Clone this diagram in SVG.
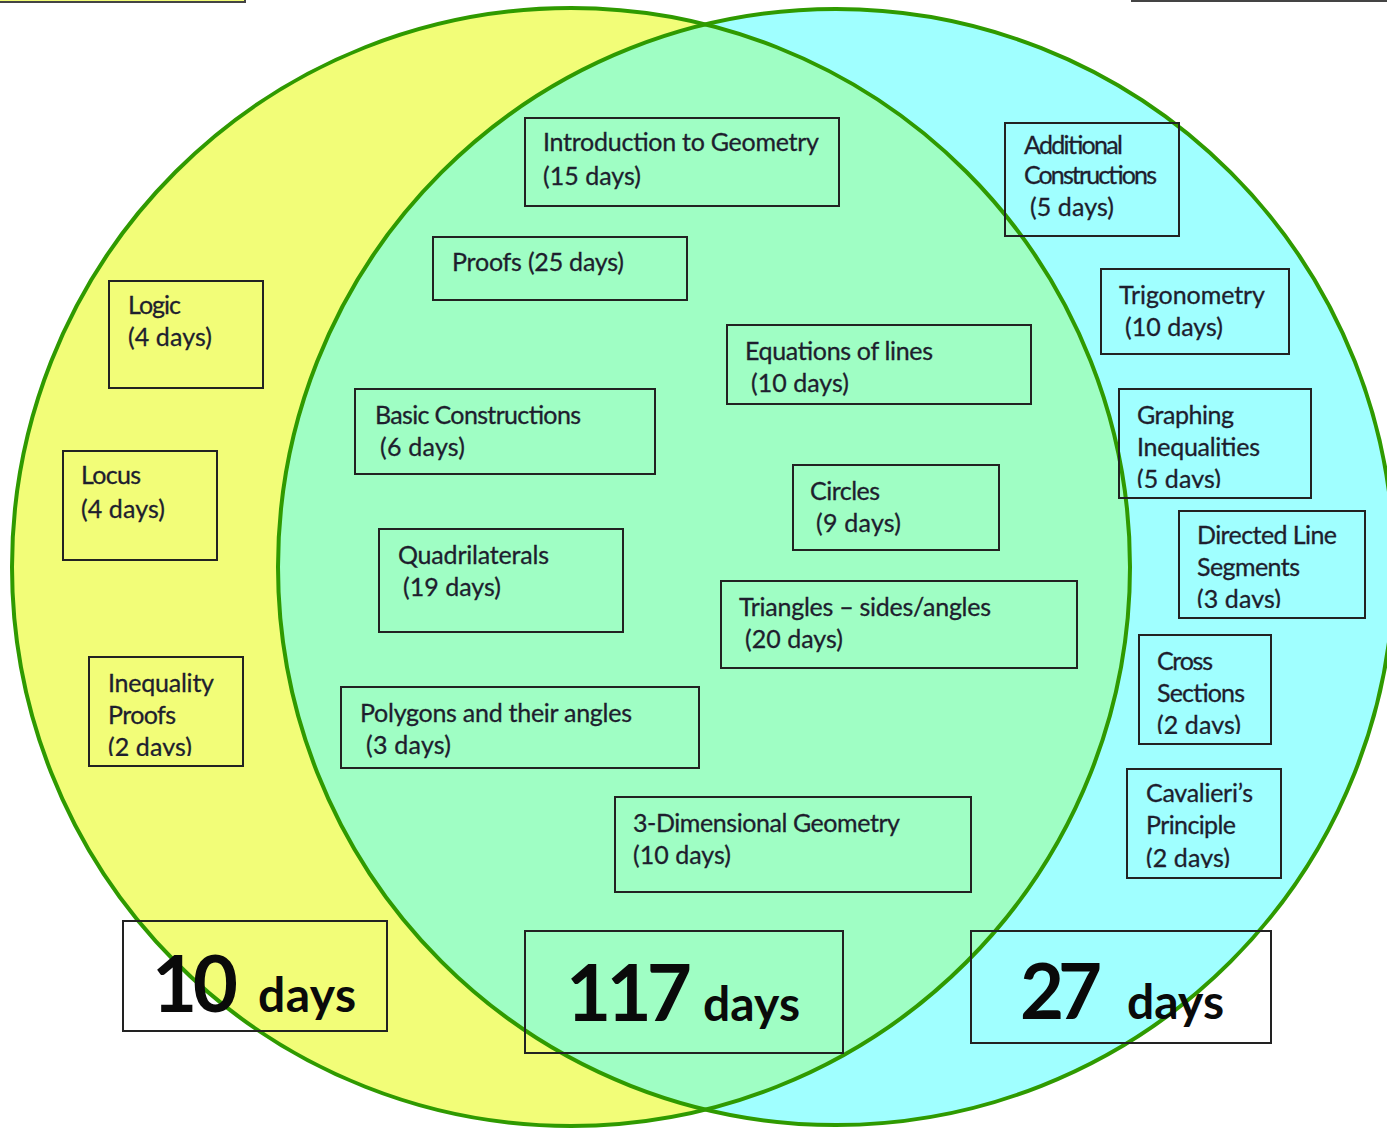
<svg xmlns="http://www.w3.org/2000/svg" width="1387" height="1128" viewBox="0 0 1387 1128">
<style>
.bx{fill:none;stroke:#222;stroke-width:2}
.t{font-family:Lato,"Open Sans","Liberation Sans",sans-serif;font-size:25px;fill:#1e1e2e;stroke:#1e1e2e;stroke-width:0.3}
.big{font-family:Lato,"Open Sans","Liberation Sans",sans-serif;font-weight:bold;fill:#0a0a0a}
.ring{fill:none;stroke:#2f9a00;stroke-width:4}
</style>
<defs>
<clipPath id="cIneq"><rect x="89" y="657" width="154" height="99"/></clipPath>
<clipPath id="cGraph"><rect x="1119" y="389" width="192" height="99"/></clipPath>
<clipPath id="cDir"><rect x="1179" y="511" width="186" height="97"/></clipPath>
<clipPath id="cCross"><rect x="1139" y="635" width="132" height="99"/></clipPath>
<clipPath id="cCav"><rect x="1127" y="769" width="154" height="99"/></clipPath>
</defs>
<rect width="1387" height="1128" fill="#fff"/>
<rect x="-3" y="-50" width="248" height="52" fill="#f2fc76" stroke="#444" stroke-width="2"/>
<rect x="1132" y="-50" width="300" height="51" fill="none" stroke="#444" stroke-width="2"/>
<g id="venn">
<circle cx="571" cy="567" r="559" fill="#f2fd78"/>
<circle cx="836" cy="567" r="558" fill="#a0ffff"/>
<path d="M705.6 24.4 A558 558 0 0 0 705.6 1109.6 A559 559 0 0 0 705.6 24.4 Z" fill="#9ffec4"/>
<circle class="ring" cx="571" cy="567" r="559"/>
<circle class="ring" cx="836" cy="567" r="558"/>
</g>
<g id="intro"><rect class="bx" x="525" y="118" width="314" height="88"/><text class="t" x="543" y="151" textLength="276">Introduction to Geometry</text><text class="t" x="543" y="185" textLength="98">(15 days)</text></g>
<g id="proofs"><rect class="bx" x="433" y="237" width="254" height="63"/><text class="t" x="452" y="271" textLength="172">Proofs (25 days)</text></g>
<g id="logic"><rect class="bx" x="109" y="281" width="154" height="107"/><text class="t" x="128" y="314" textLength="53">Logic</text><text class="t" x="128" y="346" textLength="84">(4 days)</text></g>
<g id="equations"><rect class="bx" x="727" y="325" width="304" height="79"/><text class="t" x="745" y="360" textLength="188">Equations of lines</text><text class="t" x="751" y="392" textLength="98">(10 days)</text></g>
<g id="basic"><rect class="bx" x="355" y="389" width="300" height="85"/><text class="t" x="375" y="424" textLength="206">Basic Constructions</text><text class="t" x="380" y="456" textLength="85">(6 days)</text></g>
<g id="locus"><rect class="bx" x="63" y="451" width="154" height="109"/><text class="t" x="81" y="484" textLength="60">Locus</text><text class="t" x="81" y="518" textLength="84">(4 days)</text></g>
<g id="circles"><rect class="bx" x="793" y="465" width="206" height="85"/><text class="t" x="810" y="500" textLength="70">Circles</text><text class="t" x="816" y="532" textLength="85">(9 days)</text></g>
<g id="quad"><rect class="bx" x="379" y="529" width="244" height="103"/><text class="t" x="398" y="564" textLength="151">Quadrilaterals</text><text class="t" x="403" y="596" textLength="98">(19 days)</text></g>
<g id="triangles"><rect class="bx" x="721" y="581" width="356" height="87"/><text class="t" x="739" y="616" textLength="252">Triangles – sides/angles</text><text class="t" x="745" y="648" textLength="98">(20 days)</text></g>
<g id="polygons"><rect class="bx" x="341" y="687" width="358" height="81"/><text class="t" x="360" y="722" textLength="272">Polygons and their angles</text><text class="t" x="366" y="754" textLength="85">(3 days)</text></g>
<g id="ineq"><rect class="bx" x="89" y="657" width="154" height="109"/><g clip-path="url(#cIneq)"><text class="t" x="108" y="692" textLength="106">Inequality</text><text class="t" x="108" y="724" textLength="68">Proofs</text><text class="t" x="108" y="756" textLength="84">(2 days)</text></g></g>
<g id="threed"><rect class="bx" x="615" y="797" width="356" height="95"/><text class="t" x="633" y="832" textLength="267">3-Dimensional Geometry</text><text class="t" x="633" y="864" textLength="98">(10 days)</text></g>
<g id="additional"><rect class="bx" x="1005" y="123" width="174" height="113"/><text class="t" x="1024" y="154" textLength="99">Additional</text><text class="t" x="1024" y="184" textLength="133">Constructions</text><text class="t" x="1030" y="216" textLength="84">(5 days)</text></g>
<g id="trig"><rect class="bx" x="1101" y="269" width="188" height="85"/><text class="t" x="1119" y="304" textLength="146">Trigonometry</text><text class="t" x="1125" y="336" textLength="98">(10 days)</text></g>
<g id="graphing"><rect class="bx" x="1119" y="389" width="192" height="109"/><g clip-path="url(#cGraph)"><text class="t" x="1137" y="424" textLength="97">Graphing</text><text class="t" x="1137" y="456" textLength="123">Inequalities</text><text class="t" x="1137" y="488" textLength="84">(5 days)</text></g></g>
<g id="directed"><rect class="bx" x="1179" y="511" width="186" height="107"/><g clip-path="url(#cDir)"><text class="t" x="1197" y="544" textLength="140">Directed Line</text><text class="t" x="1197" y="576" textLength="103">Segments</text><text class="t" x="1197" y="608" textLength="84">(3 days)</text></g></g>
<g id="cross"><rect class="bx" x="1139" y="635" width="132" height="109"/><g clip-path="url(#cCross)"><text class="t" x="1157" y="670" textLength="56">Cross</text><text class="t" x="1157" y="702" textLength="88">Sections</text><text class="t" x="1157" y="734" textLength="84">(2 days)</text></g></g>
<g id="cavalieri"><rect class="bx" x="1127" y="769" width="154" height="109"/><g clip-path="url(#cCav)"><text class="t" x="1146" y="802" textLength="107">Cavalieri’s</text><text class="t" x="1146" y="834" textLength="90">Principle</text><text class="t" x="1146" y="867" textLength="84">(2 days)</text></g></g>
<g id="total-left"><rect class="bx" x="123" y="921" width="264" height="110"/><text class="big" x="152" y="1012" font-size="78" textLength="86">10</text><text class="big" x="258" y="1012" font-size="48" textLength="98">days</text></g>
<g id="total-mid"><rect class="bx" x="525" y="931" width="318" height="122"/><text class="big" x="566" y="1021" font-size="78" textLength="126">117</text><text class="big" x="703" y="1021" font-size="48" textLength="97">days</text></g>
<g id="total-right"><rect class="bx" x="971" y="931" width="300" height="112"/><text class="big" x="1020" y="1019" font-size="76" textLength="82">27</text><text class="big" x="1127" y="1019" font-size="48" textLength="97">days</text></g>
</svg>
